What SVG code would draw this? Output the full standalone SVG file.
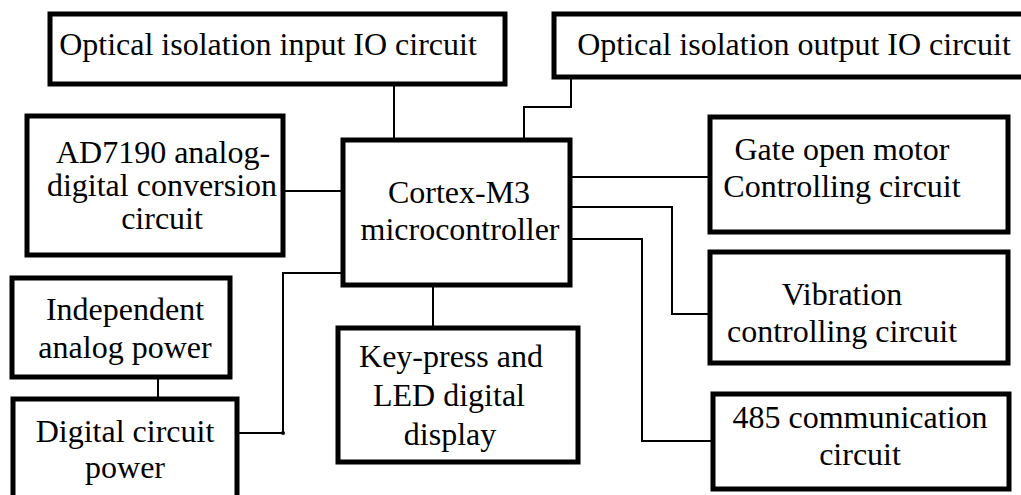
<svg xmlns="http://www.w3.org/2000/svg" width="1021" height="495" viewBox="0 0 1021 495">
<style>
.box{fill:#fff;stroke:#000;stroke-width:5;stroke-linejoin:miter}
text{font-family:'Liberation Serif','Times New Roman',Times,serif;font-size:32px;fill:#000;text-anchor:middle}
.c{fill:none;stroke:#000;stroke-width:2}
</style>
<rect width="1021" height="495" fill="#fff"/>
<g id="connectors">
<path class="c" d="M394,84 V140"/>
<path class="c" d="M571,78 V107 H524 V140"/>
<path class="c" d="M283,191 H343"/>
<path class="c" d="M570,177 H710"/>
<path class="c" d="M570,207 H672 V314 H710"/>
<path class="c" d="M570,239 H642 V441 H713"/>
<path class="c" d="M433,285 V328"/>
<path class="c" d="M158,377 V399"/>
<path class="c" d="M237,433 H283 V273 H343"/>
<circle cx="283" cy="433" r="2" fill="#000"/>
</g>
<g id="opt-in">
<rect class="box" x="50" y="14" width="455" height="70"/>
<text x="268" y="55">Optical isolation input IO circuit</text>
</g>
<g id="opt-out">
<rect class="box" x="554" y="14" width="480" height="63"/>
<text x="794" y="55">Optical isolation output IO circuit</text>
</g>
<g id="ad7190">
<rect class="box" x="27" y="116" width="256" height="139"/>
<text x="163" y="163">AD7190 analog-</text>
<text x="162" y="196">digital conversion</text>
<text x="162" y="229">circuit</text>
</g>
<g id="cortex">
<rect class="box" x="343" y="140" width="227" height="145"/>
<text x="459" y="203">Cortex-M3</text>
<text x="460" y="240">microcontroller</text>
</g>
<g id="gate">
<rect class="box" x="710" y="117" width="298" height="115"/>
<text x="842" y="160">Gate open motor</text>
<text x="842" y="197">Controlling circuit</text>
</g>
<g id="vibration">
<rect class="box" x="710" y="252" width="298" height="111"/>
<text x="842" y="305">Vibration</text>
<text x="842" y="342">controlling circuit</text>
</g>
<g id="rs485">
<rect class="box" x="713" y="394" width="296" height="95"/>
<text x="860" y="428">485 communication</text>
<text x="860" y="465">circuit</text>
</g>
<g id="keypress">
<rect class="box" x="338" y="328" width="240" height="134"/>
<text x="451" y="367">Key-press and</text>
<text x="449" y="406">LED digital</text>
<text x="450" y="445">display</text>
</g>
<g id="indep-power">
<rect class="box" x="12" y="278" width="218" height="99"/>
<text x="125" y="320">Independent</text>
<text x="125" y="358">analog power</text>
</g>
<g id="digital-power">
<rect class="box" x="13" y="399" width="224" height="120"/>
<text x="125" y="442">Digital circuit</text>
<text x="125" y="478">power</text>
</g>
</svg>
